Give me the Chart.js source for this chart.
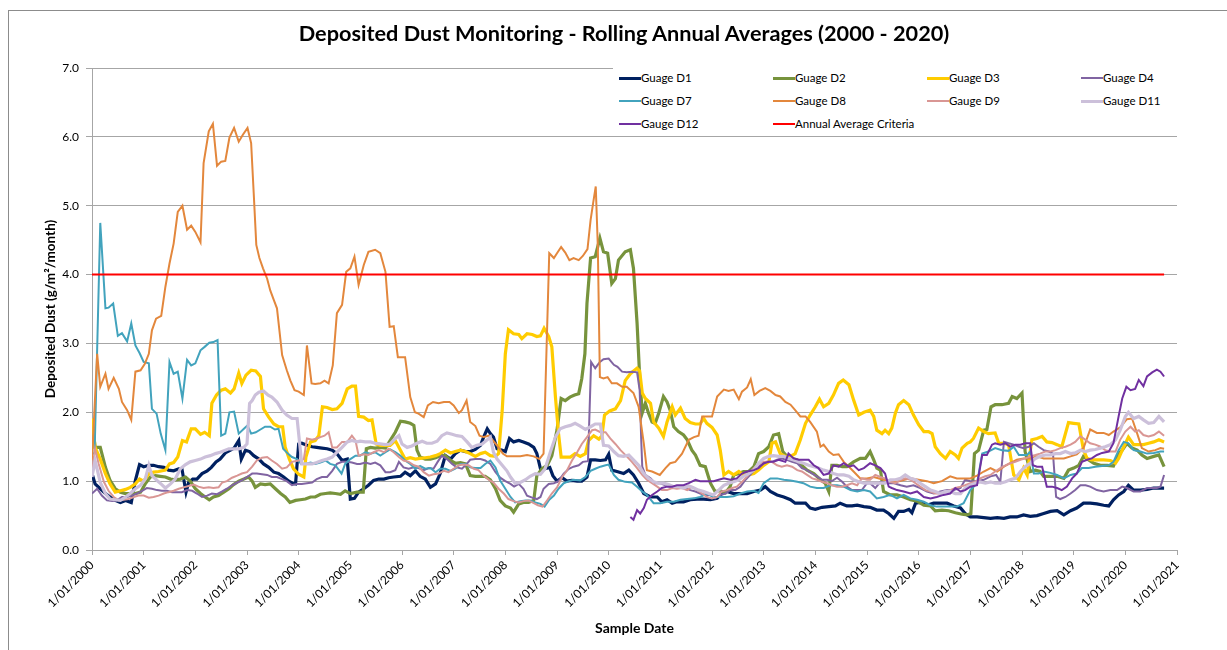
<!DOCTYPE html>
<html>
<head>
<meta charset="utf-8">
<script src="https://cdn.jsdelivr.net/npm/chart.js@4.4.0/dist/chart.umd.min.js"></script>
<style>
  body { margin: 0; background: #fff; overflow: hidden; }
  #moldura { position: absolute; left: 8px; top: 10px; width: 1300px; height: 700px; border: 1px solid #8c8c8c; }
  #area { position: absolute; left: 0; top: 0; width: 1227px; height: 650px; }
  #titulo { position: absolute; left: 0; top: 20px; width: 1248px; height: 26px; line-height: 26px; text-align: center;
            font-family: Lato, sans-serif; font-weight: bold; font-size: 21.7px; color: #000; white-space: nowrap; }
  #legenda { position: absolute; left: 613px; top: 66px; width: 564px; height: 69px; background: #fff;
             font-family: Lato, sans-serif; font-size: 11.5px; color: #000; }
  .item { position: absolute; height: 16px; line-height: 16px; white-space: nowrap; }
  .item span { display: inline-block; width: 22px; vertical-align: middle; margin-top: -2px; }
</style>
</head>
<body>
<div id="moldura"></div>
<div id="area"><canvas id="grafico" width="1227" height="650"></canvas></div>
<div id="titulo">Deposited Dust Monitoring - Rolling Annual Averages (2000 - 2020)</div>
<div id="legenda"></div>
<script>
// dados: [ano, g/m2/mes]
const gaugeD1 = [[2000.0,1.11],[2000.06,0.96],[2000.16,0.89],[2000.26,0.82],[2000.35,0.77],[2000.45,0.72],[2000.55,0.69],[2000.65,0.72],[2000.76,0.69],[2000.84,1.01],[2000.92,1.24],[2001.0,1.21],[2001.1,1.23],[2001.19,1.23],[2001.29,1.21],[2001.39,1.2],[2001.48,1.16],[2001.58,1.15],[2001.68,1.18],[2001.74,1.18],[2001.82,0.84],[2001.87,0.98],[2001.95,1.03],[2002.03,1.03],[2002.13,1.11],[2002.23,1.15],[2002.31,1.2],[2002.4,1.28],[2002.48,1.32],[2002.58,1.41],[2002.68,1.45],[2002.75,1.48],[2002.84,1.59],[2002.89,1.32],[2002.97,1.45],[2003.05,1.43],[2003.13,1.37],[2003.23,1.32],[2003.32,1.25],[2003.42,1.2],[2003.52,1.13],[2003.61,1.11],[2003.71,1.06],[2003.81,1.0],[2003.88,0.97],[2003.94,0.96],[2004.0,1.54],[2004.06,1.55],[2004.16,1.52],[2004.26,1.5],[2004.35,1.49],[2004.45,1.48],[2004.55,1.47],[2004.65,1.45],[2004.74,1.4],[2004.84,1.3],[2004.94,1.32],[2005.0,0.74],[2005.08,0.75],[2005.16,0.84],[2005.26,0.89],[2005.35,0.94],[2005.45,1.01],[2005.55,1.03],[2005.65,1.03],[2005.74,1.05],[2005.84,1.06],[2005.97,1.07],[2006.06,1.13],[2006.16,1.08],[2006.26,1.15],[2006.35,1.07],[2006.45,1.03],[2006.55,0.91],[2006.65,0.96],[2006.74,1.11],[2006.84,1.37],[2006.94,1.32],[2007.03,1.4],[2007.13,1.45],[2007.23,1.43],[2007.32,1.43],[2007.42,1.46],[2007.52,1.52],[2007.58,1.64],[2007.65,1.76],[2007.71,1.69],[2007.77,1.64],[2007.84,1.47],[2007.94,1.45],[2008.0,1.43],[2008.08,1.62],[2008.16,1.57],[2008.26,1.59],[2008.35,1.57],[2008.45,1.54],[2008.55,1.49],[2008.61,1.4],[2008.68,1.18],[2008.77,1.18],[2008.86,1.2],[2008.92,1.08],[2009.0,1.0],[2009.1,1.05],[2009.19,1.0],[2009.29,1.01],[2009.39,1.0],[2009.48,1.0],[2009.58,1.06],[2009.65,1.31],[2009.74,1.31],[2009.84,1.3],[2009.94,1.31],[2010.0,1.39],[2010.06,1.16],[2010.16,1.14],[2010.29,1.11],[2010.39,1.16],[2010.48,1.09],[2010.58,0.97],[2010.68,0.82],[2010.81,0.77],[2010.94,0.77],[2011.03,0.7],[2011.13,0.73],[2011.23,0.68],[2011.32,0.7],[2011.45,0.7],[2011.58,0.73],[2011.71,0.74],[2011.84,0.74],[2011.97,0.73],[2012.1,0.75],[2012.19,0.82],[2012.29,0.85],[2012.42,0.82],[2012.55,0.82],[2012.68,0.82],[2012.81,0.85],[2012.94,0.87],[2013.03,0.92],[2013.13,0.85],[2013.26,0.8],[2013.39,0.77],[2013.52,0.73],[2013.61,0.68],[2013.71,0.68],[2013.81,0.68],[2013.9,0.61],[2014.0,0.59],[2014.13,0.62],[2014.26,0.63],[2014.39,0.64],[2014.48,0.68],[2014.61,0.64],[2014.71,0.64],[2014.81,0.65],[2014.94,0.63],[2015.06,0.62],[2015.19,0.58],[2015.32,0.58],[2015.42,0.53],[2015.52,0.46],[2015.61,0.56],[2015.71,0.56],[2015.81,0.59],[2015.87,0.54],[2015.94,0.68],[2016.03,0.69],[2016.16,0.65],[2016.29,0.68],[2016.42,0.68],[2016.55,0.68],[2016.68,0.64],[2016.81,0.61],[2016.9,0.53],[2017.0,0.48],[2017.13,0.48],[2017.26,0.47],[2017.39,0.46],[2017.52,0.47],[2017.65,0.46],[2017.77,0.48],[2017.9,0.48],[2018.03,0.51],[2018.16,0.49],[2018.29,0.5],[2018.42,0.53],[2018.55,0.56],[2018.68,0.57],[2018.81,0.51],[2018.94,0.57],[2019.06,0.61],[2019.19,0.68],[2019.32,0.68],[2019.45,0.67],[2019.58,0.65],[2019.68,0.64],[2019.77,0.73],[2019.87,0.8],[2019.97,0.85],[2020.06,0.94],[2020.16,0.87],[2020.29,0.87],[2020.42,0.88],[2020.55,0.9],[2020.68,0.9],[2020.75,0.9]];

const gaugeD2 = [[2000.0,1.9],[2000.06,1.49],[2000.16,1.49],[2000.26,1.2],[2000.35,1.01],[2000.45,0.89],[2000.55,0.84],[2000.65,0.82],[2000.74,0.82],[2000.84,0.82],[2000.94,0.84],[2001.03,0.96],[2001.13,1.06],[2001.23,1.08],[2001.32,1.07],[2001.42,1.06],[2001.52,1.03],[2001.61,1.02],[2001.71,1.03],[2001.81,1.06],[2001.9,1.0],[2002.0,0.89],[2002.1,0.82],[2002.19,0.77],[2002.27,0.73],[2002.35,0.77],[2002.45,0.79],[2002.55,0.84],[2002.65,0.89],[2002.74,0.95],[2002.84,1.0],[2002.94,1.03],[2003.03,1.06],[2003.1,1.0],[2003.16,0.91],[2003.26,0.96],[2003.35,0.95],[2003.45,0.96],[2003.55,0.89],[2003.65,0.82],[2003.74,0.77],[2003.83,0.69],[2003.94,0.72],[2004.03,0.73],[2004.13,0.74],[2004.23,0.77],[2004.32,0.77],[2004.42,0.81],[2004.52,0.82],[2004.61,0.83],[2004.71,0.82],[2004.81,0.81],[2004.9,0.86],[2005.0,0.82],[2005.13,0.84],[2005.25,0.84],[2005.31,1.47],[2005.39,1.49],[2005.48,1.48],[2005.58,1.49],[2005.68,1.48],[2005.77,1.59],[2005.87,1.71],[2005.97,1.87],[2006.06,1.86],[2006.16,1.84],[2006.23,1.81],[2006.29,1.45],[2006.35,1.35],[2006.45,1.32],[2006.55,1.32],[2006.65,1.34],[2006.74,1.37],[2006.84,1.37],[2006.94,1.3],[2007.03,1.26],[2007.13,1.27],[2007.23,1.25],[2007.32,1.08],[2007.42,1.07],[2007.52,1.07],[2007.61,1.07],[2007.71,1.02],[2007.81,0.89],[2007.9,0.72],[2008.0,0.64],[2008.1,0.61],[2008.16,0.55],[2008.26,0.67],[2008.35,0.69],[2008.45,0.69],[2008.55,0.72],[2008.61,1.08],[2008.71,1.18],[2008.81,1.23],[2008.9,1.37],[2009.0,1.74],[2009.08,2.2],[2009.16,2.17],[2009.25,2.22],[2009.34,2.25],[2009.42,2.27],[2009.48,2.49],[2009.54,2.85],[2009.58,3.58],[2009.65,4.24],[2009.74,4.26],[2009.83,4.53],[2009.9,4.33],[2009.98,4.31],[2010.06,3.87],[2010.13,3.94],[2010.19,4.21],[2010.32,4.33],[2010.42,4.36],[2010.48,4.09],[2010.55,3.29],[2010.6,2.52],[2010.65,1.99],[2010.71,2.13],[2010.77,1.99],[2010.84,1.86],[2010.9,1.84],[2010.97,1.99],[2011.06,2.23],[2011.13,2.15],[2011.19,2.03],[2011.26,1.79],[2011.35,1.72],[2011.45,1.67],[2011.52,1.6],[2011.61,1.45],[2011.68,1.38],[2011.77,1.23],[2011.87,1.21],[2011.97,0.97],[2012.06,0.85],[2012.16,0.86],[2012.26,0.83],[2012.35,0.92],[2012.42,1.09],[2012.52,1.11],[2012.61,1.14],[2012.71,1.14],[2012.81,1.21],[2012.9,1.4],[2013.0,1.43],[2013.1,1.5],[2013.19,1.67],[2013.29,1.69],[2013.37,1.43],[2013.45,1.36],[2013.55,1.33],[2013.65,1.31],[2013.74,1.23],[2013.84,1.16],[2013.97,1.11],[2014.1,1.02],[2014.19,0.97],[2014.26,0.85],[2014.32,1.23],[2014.42,1.23],[2014.52,1.21],[2014.61,1.21],[2014.74,1.28],[2014.87,1.33],[2014.97,1.33],[2015.06,1.43],[2015.13,1.31],[2015.19,1.19],[2015.26,1.16],[2015.32,0.85],[2015.45,0.8],[2015.58,0.8],[2015.71,0.77],[2015.84,0.73],[2015.97,0.71],[2016.1,0.65],[2016.23,0.64],[2016.32,0.57],[2016.45,0.58],[2016.58,0.57],[2016.71,0.54],[2016.84,0.52],[2016.94,0.51],[2017.01,0.53],[2017.08,1.4],[2017.16,1.45],[2017.26,1.74],[2017.32,1.75],[2017.4,2.08],[2017.48,2.11],[2017.61,2.11],[2017.74,2.13],[2017.81,2.23],[2017.9,2.2],[2018.0,2.28],[2018.06,1.43],[2018.16,1.14],[2018.26,1.16],[2018.35,1.14],[2018.42,1.07],[2018.55,1.07],[2018.68,1.07],[2018.81,1.04],[2018.9,1.16],[2019.0,1.19],[2019.1,1.23],[2019.19,1.36],[2019.29,1.31],[2019.39,1.26],[2019.52,1.23],[2019.65,1.23],[2019.77,1.22],[2019.87,1.4],[2019.94,1.45],[2020.03,1.55],[2020.13,1.48],[2020.23,1.45],[2020.32,1.38],[2020.42,1.33],[2020.55,1.36],[2020.65,1.38],[2020.75,1.21]];

const gaugeD3 = [[2000.0,1.91],[2000.06,1.49],[2000.16,1.32],[2000.26,1.11],[2000.35,0.96],[2000.45,0.84],[2000.55,0.86],[2000.65,0.88],[2000.74,0.91],[2000.84,0.96],[2000.92,1.03],[2001.0,1.0],[2001.1,1.11],[2001.19,1.13],[2001.29,1.14],[2001.42,1.16],[2001.5,1.25],[2001.58,1.27],[2001.66,1.35],[2001.75,1.59],[2001.83,1.57],[2001.92,1.76],[2002.0,1.76],[2002.1,1.68],[2002.18,1.71],[2002.27,1.66],[2002.32,2.13],[2002.41,2.25],[2002.5,2.32],[2002.58,2.34],[2002.68,2.28],[2002.75,2.34],[2002.84,2.57],[2002.9,2.42],[2002.98,2.54],[2003.08,2.61],[2003.17,2.6],[2003.26,2.52],[2003.32,2.05],[2003.42,1.93],[2003.52,1.83],[2003.61,1.79],[2003.69,1.79],[2003.74,1.49],[2003.82,1.32],[2003.9,1.18],[2004.0,1.1],[2004.1,1.06],[2004.14,1.35],[2004.23,1.57],[2004.32,1.59],[2004.39,1.66],[2004.46,2.08],[2004.55,2.07],[2004.65,2.04],[2004.74,2.05],[2004.84,2.13],[2004.94,2.34],[2005.03,2.38],[2005.1,2.38],[2005.16,1.94],[2005.26,1.93],[2005.35,1.88],[2005.42,1.89],[2005.5,1.54],[2005.58,1.52],[2005.68,1.52],[2005.77,1.52],[2005.87,1.59],[2005.97,1.45],[2006.06,1.32],[2006.16,1.34],[2006.26,1.32],[2006.35,1.33],[2006.45,1.34],[2006.55,1.35],[2006.65,1.37],[2006.74,1.4],[2006.84,1.45],[2006.94,1.41],[2007.03,1.43],[2007.13,1.45],[2007.23,1.43],[2007.32,1.4],[2007.42,1.36],[2007.52,1.4],[2007.61,1.42],[2007.71,1.37],[2007.81,1.36],[2007.87,1.4],[2007.94,2.03],[2008.0,2.85],[2008.06,3.2],[2008.16,3.14],[2008.26,3.13],[2008.32,3.07],[2008.42,3.14],[2008.52,3.13],[2008.61,3.1],[2008.68,3.11],[2008.75,3.22],[2008.84,3.1],[2008.9,2.95],[2008.97,2.22],[2009.03,1.69],[2009.08,1.35],[2009.16,1.35],[2009.26,1.35],[2009.35,1.4],[2009.45,1.36],[2009.55,1.4],[2009.61,1.59],[2009.71,1.66],[2009.81,1.61],[2009.87,1.66],[2009.92,1.96],[2010.02,2.02],[2010.13,2.05],[2010.23,2.17],[2010.32,2.46],[2010.42,2.56],[2010.55,2.64],[2010.6,2.6],[2010.65,2.28],[2010.71,2.2],[2010.81,2.13],[2010.87,1.86],[2010.97,1.77],[2011.06,1.65],[2011.13,1.86],[2011.23,2.08],[2011.29,1.96],[2011.39,2.06],[2011.48,1.91],[2011.58,1.85],[2011.68,1.83],[2011.77,1.83],[2011.84,1.91],[2011.9,1.84],[2012.0,1.78],[2012.1,1.67],[2012.16,1.45],[2012.23,1.09],[2012.32,1.14],[2012.42,1.09],[2012.52,1.14],[2012.61,1.09],[2012.71,1.09],[2012.81,1.11],[2012.9,1.16],[2013.0,1.23],[2013.1,1.28],[2013.16,1.55],[2013.23,1.57],[2013.32,1.4],[2013.42,1.36],[2013.52,1.36],[2013.61,1.4],[2013.71,1.6],[2013.81,1.84],[2013.9,1.96],[2014.0,2.08],[2014.08,2.19],[2014.16,2.08],[2014.26,2.13],[2014.35,2.25],[2014.45,2.42],[2014.54,2.47],[2014.65,2.4],[2014.74,2.18],[2014.84,1.96],[2014.94,2.0],[2015.06,2.03],[2015.13,1.94],[2015.19,1.74],[2015.29,1.69],[2015.35,1.74],[2015.42,1.69],[2015.48,1.77],[2015.55,1.99],[2015.61,2.11],[2015.71,2.17],[2015.81,2.11],[2015.9,1.96],[2016.0,1.82],[2016.1,1.72],[2016.19,1.72],[2016.26,1.69],[2016.32,1.5],[2016.42,1.4],[2016.52,1.33],[2016.61,1.43],[2016.71,1.38],[2016.77,1.33],[2016.84,1.48],[2016.94,1.55],[2017.0,1.57],[2017.06,1.62],[2017.16,1.77],[2017.26,1.72],[2017.35,1.69],[2017.48,1.7],[2017.55,1.55],[2017.65,1.55],[2017.74,1.53],[2017.84,1.09],[2017.94,1.02],[2018.03,1.19],[2018.1,1.09],[2018.19,1.6],[2018.29,1.62],[2018.39,1.65],[2018.48,1.57],[2018.58,1.56],[2018.68,1.53],[2018.77,1.5],[2018.9,1.85],[2019.0,1.84],[2019.1,1.83],[2019.19,1.45],[2019.26,1.33],[2019.35,1.31],[2019.48,1.31],[2019.58,1.31],[2019.71,1.3],[2019.81,1.26],[2019.87,1.33],[2019.97,1.5],[2020.06,1.64],[2020.16,1.53],[2020.26,1.53],[2020.35,1.53],[2020.45,1.55],[2020.55,1.57],[2020.65,1.6],[2020.75,1.57]];

const gaugeD4 = [[2000.0,0.82],[2000.1,0.89],[2000.19,0.79],[2000.29,0.72],[2000.39,0.71],[2000.48,0.72],[2000.58,0.77],[2000.68,0.77],[2000.77,0.79],[2000.87,0.82],[2000.97,0.86],[2001.06,0.9],[2001.16,0.89],[2001.26,0.87],[2001.35,0.86],[2001.45,0.86],[2001.55,0.84],[2001.65,0.84],[2001.74,0.84],[2001.84,0.87],[2001.94,0.86],[2002.03,0.82],[2002.13,0.77],[2002.23,0.79],[2002.32,0.82],[2002.42,0.81],[2002.52,0.85],[2002.61,0.89],[2002.71,0.94],[2002.81,0.98],[2002.9,1.01],[2003.0,1.06],[2003.1,1.11],[2003.19,1.11],[2003.29,1.1],[2003.39,1.09],[2003.48,1.06],[2003.58,1.06],[2003.68,1.03],[2003.77,1.0],[2003.87,0.94],[2003.97,0.96],[2004.06,0.96],[2004.16,0.97],[2004.26,0.98],[2004.35,1.03],[2004.45,1.06],[2004.55,1.06],[2004.65,1.15],[2004.74,1.25],[2004.84,1.28],[2004.94,1.28],[2005.03,1.27],[2005.13,1.25],[2005.19,1.25],[2005.29,1.27],[2005.39,1.25],[2005.48,1.27],[2005.58,1.23],[2005.68,1.13],[2005.77,1.13],[2005.87,1.16],[2005.94,1.28],[2006.03,1.2],[2006.13,1.18],[2006.23,1.2],[2006.32,1.19],[2006.42,1.16],[2006.52,1.19],[2006.61,1.18],[2006.69,1.28],[2006.77,1.37],[2006.87,1.32],[2006.97,1.25],[2007.06,1.2],[2007.16,1.18],[2007.23,1.23],[2007.32,1.31],[2007.42,1.32],[2007.52,1.32],[2007.61,1.3],[2007.71,1.25],[2007.81,1.13],[2007.9,1.05],[2008.0,1.0],[2008.1,0.96],[2008.17,0.92],[2008.26,0.96],[2008.35,0.89],[2008.42,0.79],[2008.52,0.76],[2008.61,0.74],[2008.68,0.77],[2008.74,0.89],[2008.84,0.96],[2008.94,0.97],[2009.03,1.0],[2009.13,1.11],[2009.23,1.18],[2009.32,1.21],[2009.42,1.23],[2009.5,1.28],[2009.6,1.29],[2009.66,2.73],[2009.74,2.64],[2009.83,2.73],[2009.9,2.77],[2010.0,2.78],[2010.1,2.69],[2010.17,2.66],[2010.26,2.59],[2010.35,2.58],[2010.45,2.59],[2010.55,2.58],[2010.6,2.32],[2010.63,1.6],[2010.65,1.21],[2010.71,1.09],[2010.81,1.04],[2010.9,0.97],[2011.0,0.97],[2011.1,0.94],[2011.19,0.92],[2011.29,0.92],[2011.39,0.9],[2011.48,0.9],[2011.58,0.87],[2011.68,0.85],[2011.77,0.82],[2011.87,0.8],[2011.97,0.8],[2012.06,0.75],[2012.16,0.8],[2012.26,0.82],[2012.35,0.87],[2012.45,0.87],[2012.55,0.92],[2012.65,1.02],[2012.74,1.09],[2012.84,1.19],[2012.94,1.23],[2013.06,1.28],[2013.16,1.28],[2013.26,1.31],[2013.35,1.33],[2013.45,1.31],[2013.55,1.28],[2013.65,1.26],[2013.74,1.19],[2013.84,1.16],[2013.94,1.11],[2014.03,1.07],[2014.13,1.02],[2014.23,1.02],[2014.32,1.0],[2014.42,1.05],[2014.52,0.99],[2014.61,0.92],[2014.71,0.87],[2014.81,0.87],[2014.9,0.87],[2015.0,0.97],[2015.06,0.97],[2015.16,0.9],[2015.26,0.99],[2015.39,0.97],[2015.52,0.97],[2015.65,0.94],[2015.77,0.92],[2015.9,0.94],[2016.03,0.9],[2016.16,0.85],[2016.29,0.82],[2016.42,0.85],[2016.55,0.87],[2016.68,0.87],[2016.81,0.9],[2016.9,1.02],[2017.0,1.0],[2017.13,1.0],[2017.26,1.02],[2017.39,1.07],[2017.5,1.09],[2017.58,0.99],[2017.65,1.57],[2017.74,1.55],[2017.84,1.53],[2017.94,1.5],[2018.03,1.48],[2018.13,1.5],[2018.23,1.55],[2018.32,1.5],[2018.42,1.45],[2018.52,1.43],[2018.6,1.4],[2018.66,0.77],[2018.74,0.74],[2018.84,0.77],[2018.94,0.82],[2019.03,0.87],[2019.13,0.94],[2019.23,0.94],[2019.32,0.92],[2019.45,0.87],[2019.58,0.85],[2019.71,0.87],[2019.84,0.87],[2019.94,0.92],[2020.03,0.9],[2020.16,0.85],[2020.29,0.85],[2020.42,0.9],[2020.61,0.9],[2020.68,0.92],[2020.75,1.09]];

const gaugeD7 = [[2000.0,1.4],[2000.05,1.4],[2000.16,4.75],[2000.26,3.51],[2000.32,3.52],[2000.41,3.58],[2000.5,3.11],[2000.58,3.15],[2000.68,3.03],[2000.76,3.29],[2000.84,2.97],[2000.92,2.86],[2001.0,2.73],[2001.1,2.71],[2001.16,2.05],[2001.25,1.98],[2001.33,1.69],[2001.42,1.45],[2001.5,2.73],[2001.58,2.56],[2001.66,2.59],[2001.75,2.2],[2001.84,2.76],[2001.92,2.68],[2002.0,2.71],[2002.1,2.9],[2002.18,2.95],[2002.27,3.01],[2002.35,3.02],[2002.43,3.05],[2002.5,1.66],[2002.58,1.69],[2002.66,2.0],[2002.75,2.01],[2002.84,1.69],[2002.94,1.76],[2003.01,1.81],[2003.08,1.69],[2003.17,1.71],[2003.26,1.75],[2003.35,1.79],[2003.45,1.79],[2003.54,1.75],[2003.61,1.76],[2003.7,1.47],[2003.79,1.4],[2003.87,1.35],[2003.97,1.32],[2004.05,1.25],[2004.13,1.25],[2004.23,1.27],[2004.32,1.25],[2004.42,1.27],[2004.52,1.3],[2004.61,1.25],[2004.71,1.23],[2004.83,1.11],[2004.9,1.25],[2005.0,1.32],[2005.1,1.37],[2005.19,1.37],[2005.29,1.42],[2005.39,1.4],[2005.48,1.42],[2005.58,1.37],[2005.68,1.42],[2005.77,1.46],[2005.87,1.42],[2005.97,1.37],[2006.06,1.3],[2006.16,1.25],[2006.26,1.18],[2006.35,1.22],[2006.45,1.18],[2006.55,1.19],[2006.65,1.13],[2006.74,1.18],[2006.84,1.18],[2006.94,1.15],[2007.03,1.18],[2007.13,1.25],[2007.23,1.25],[2007.32,1.2],[2007.42,1.19],[2007.52,1.19],[2007.61,1.25],[2007.71,1.3],[2007.81,1.2],[2007.9,1.01],[2008.0,0.89],[2008.1,0.77],[2008.19,0.69],[2008.29,0.71],[2008.39,0.72],[2008.48,0.72],[2008.58,0.69],[2008.68,0.67],[2008.76,0.63],[2008.85,0.73],[2008.94,0.79],[2009.03,0.89],[2009.13,0.97],[2009.23,1.0],[2009.32,1.02],[2009.45,1.01],[2009.55,1.06],[2009.65,1.15],[2009.74,1.18],[2009.84,1.21],[2009.94,1.23],[2010.0,1.24],[2010.1,1.09],[2010.19,1.02],[2010.32,0.99],[2010.45,0.98],[2010.55,0.92],[2010.65,0.85],[2010.74,0.8],[2010.87,0.68],[2011.0,0.68],[2011.13,0.7],[2011.26,0.7],[2011.39,0.73],[2011.52,0.74],[2011.65,0.75],[2011.77,0.77],[2011.9,0.82],[2012.03,0.77],[2012.16,0.77],[2012.29,0.77],[2012.42,0.78],[2012.55,0.82],[2012.68,0.85],[2012.81,0.86],[2012.9,0.83],[2013.0,0.97],[2013.13,1.04],[2013.26,1.04],[2013.39,1.02],[2013.52,1.01],[2013.65,0.99],[2013.77,0.97],[2013.9,0.92],[2014.03,0.9],[2014.16,0.9],[2014.29,0.94],[2014.42,0.94],[2014.55,0.92],[2014.68,0.87],[2014.81,0.85],[2014.94,0.87],[2015.06,0.85],[2015.19,0.75],[2015.32,0.77],[2015.45,0.8],[2015.58,0.75],[2015.71,0.8],[2015.84,0.75],[2015.97,0.73],[2016.1,0.7],[2016.23,0.65],[2016.35,0.63],[2016.48,0.63],[2016.61,0.63],[2016.74,0.63],[2016.87,0.68],[2017.0,0.87],[2017.13,0.97],[2017.23,1.4],[2017.35,1.43],[2017.48,1.48],[2017.61,1.45],[2017.74,1.44],[2017.84,1.5],[2017.94,1.38],[2018.1,1.38],[2018.16,1.43],[2018.23,1.11],[2018.32,1.11],[2018.42,1.14],[2018.55,1.12],[2018.68,1.09],[2018.81,1.04],[2018.94,1.09],[2019.06,1.11],[2019.16,1.19],[2019.29,1.19],[2019.42,1.21],[2019.55,1.22],[2019.68,1.23],[2019.77,1.28],[2019.87,1.45],[2019.97,1.57],[2020.06,1.55],[2020.16,1.45],[2020.29,1.43],[2020.42,1.4],[2020.55,1.41],[2020.68,1.43],[2020.75,1.43]];

const gaugeD8 = [[2000.0,1.3],[2000.1,2.85],[2000.16,2.37],[2000.26,2.56],[2000.32,2.34],[2000.42,2.5],[2000.52,2.34],[2000.58,2.15],[2000.68,2.03],[2000.76,1.89],[2000.84,2.59],[2000.94,2.61],[2001.02,2.7],[2001.1,2.85],[2001.16,3.19],[2001.24,3.36],[2001.34,3.4],[2001.42,3.82],[2001.5,4.16],[2001.58,4.45],[2001.66,4.91],[2001.75,5.0],[2001.84,4.65],[2001.92,4.71],[2002.0,4.62],[2002.1,4.47],[2002.16,5.62],[2002.26,6.08],[2002.34,6.19],[2002.42,5.58],[2002.5,5.64],[2002.58,5.65],[2002.66,5.99],[2002.75,6.13],[2002.84,5.93],[2002.92,6.03],[2003.01,6.13],[2003.08,5.91],[2003.13,5.18],[2003.18,4.43],[2003.24,4.24],[2003.31,4.09],[2003.39,3.94],[2003.45,3.77],[2003.52,3.63],[2003.58,3.51],[2003.68,2.83],[2003.77,2.61],[2003.84,2.46],[2003.92,2.32],[2004.0,2.3],[2004.1,2.25],[2004.16,2.97],[2004.25,2.42],[2004.32,2.41],[2004.42,2.42],[2004.5,2.46],[2004.58,2.42],[2004.66,2.68],[2004.74,3.44],[2004.84,3.56],[2004.92,4.04],[2005.0,4.09],[2005.08,4.26],[2005.16,3.85],[2005.26,4.14],[2005.35,4.33],[2005.48,4.36],[2005.58,4.31],[2005.68,4.04],[2005.76,3.24],[2005.84,3.25],[2005.92,2.8],[2006.06,2.8],[2006.16,2.22],[2006.25,2.0],[2006.32,1.98],[2006.42,1.93],[2006.5,2.1],[2006.6,2.15],[2006.71,2.13],[2006.81,2.15],[2006.92,2.15],[2007.0,2.1],[2007.1,1.99],[2007.16,2.03],[2007.25,2.17],[2007.32,1.86],[2007.42,1.8],[2007.5,1.66],[2007.58,1.64],[2007.68,1.66],[2007.76,1.59],[2007.87,1.49],[2007.95,1.4],[2008.03,1.36],[2008.16,1.36],[2008.29,1.36],[2008.42,1.38],[2008.55,1.36],[2008.66,1.32],[2008.74,1.4],[2008.85,4.31],[2008.94,4.24],[2009.0,4.31],[2009.08,4.4],[2009.16,4.32],[2009.24,4.21],[2009.32,4.24],[2009.42,4.21],[2009.5,4.27],[2009.59,4.37],[2009.65,4.79],[2009.7,5.04],[2009.75,5.28],[2009.79,4.41],[2009.83,2.51],[2009.9,2.49],[2009.98,2.51],[2010.06,2.42],[2010.16,2.42],[2010.26,2.37],[2010.35,2.37],[2010.48,2.28],[2010.58,2.08],[2010.68,1.55],[2010.74,1.16],[2010.84,1.14],[2010.99,1.09],[2011.1,1.19],[2011.19,1.26],[2011.29,1.28],[2011.42,1.4],[2011.55,1.6],[2011.65,1.64],[2011.74,1.66],[2011.81,1.94],[2012.0,1.94],[2012.1,2.23],[2012.23,2.33],[2012.32,2.31],[2012.42,2.33],[2012.52,2.19],[2012.58,2.3],[2012.68,2.36],[2012.75,2.48],[2012.82,2.25],[2012.92,2.31],[2013.03,2.35],[2013.13,2.31],[2013.23,2.25],[2013.32,2.23],[2013.42,2.15],[2013.52,2.11],[2013.61,2.03],[2013.71,1.94],[2013.81,1.94],[2013.9,1.86],[2014.03,1.72],[2014.1,1.5],[2014.16,1.53],[2014.26,1.43],[2014.35,1.38],[2014.45,1.39],[2014.55,1.28],[2014.65,1.21],[2014.74,1.14],[2014.87,1.04],[2015.0,1.04],[2015.13,1.06],[2015.32,1.02],[2015.58,0.99],[2015.84,1.04],[2016.0,1.02],[2016.16,1.0],[2016.29,0.97],[2016.45,1.0],[2016.61,1.07],[2016.74,1.04],[2016.87,1.04],[2017.0,1.04],[2017.13,1.08],[2017.26,1.14],[2017.39,1.19],[2017.52,1.14],[2017.65,1.21],[2017.77,1.26],[2017.9,1.31],[2018.03,1.33],[2018.16,1.33],[2018.29,1.36],[2018.42,1.33],[2018.55,1.33],[2018.68,1.33],[2018.81,1.33],[2018.94,1.36],[2019.06,1.39],[2019.19,1.48],[2019.32,1.75],[2019.45,1.7],[2019.58,1.7],[2019.68,1.67],[2019.77,1.72],[2019.9,1.78],[2020.03,1.9],[2020.13,1.91],[2020.23,1.69],[2020.32,1.48],[2020.45,1.43],[2020.58,1.45],[2020.68,1.48],[2020.75,1.47]];

const gaugeD9 = [[2000.0,1.15],[2000.06,1.47],[2000.13,1.25],[2000.23,0.99],[2000.32,0.86],[2000.42,0.77],[2000.52,0.72],[2000.61,0.73],[2000.71,0.74],[2000.81,0.77],[2000.9,0.79],[2001.0,0.79],[2001.1,0.76],[2001.19,0.77],[2001.29,0.79],[2001.39,0.82],[2001.48,0.84],[2001.58,0.86],[2001.68,0.89],[2001.77,0.91],[2001.87,0.93],[2001.97,0.95],[2002.06,0.92],[2002.16,0.9],[2002.26,0.91],[2002.35,0.9],[2002.45,0.91],[2002.52,0.98],[2002.61,1.0],[2002.71,1.05],[2002.81,1.08],[2002.9,1.11],[2003.0,1.13],[2003.1,1.21],[2003.19,1.3],[2003.29,1.34],[2003.39,1.35],[2003.48,1.3],[2003.58,1.25],[2003.68,1.18],[2003.77,1.2],[2003.87,1.28],[2004.0,1.3],[2004.1,1.32],[2004.16,1.62],[2004.26,1.6],[2004.35,1.62],[2004.42,1.64],[2004.5,1.66],[2004.58,1.71],[2004.65,1.49],[2004.74,1.49],[2004.84,1.57],[2004.94,1.57],[2005.03,1.66],[2005.1,1.59],[2005.16,1.37],[2005.26,1.39],[2005.35,1.38],[2005.45,1.42],[2005.55,1.45],[2005.65,1.42],[2005.74,1.47],[2005.84,1.42],[2005.94,1.35],[2006.03,1.3],[2006.13,1.28],[2006.23,1.23],[2006.32,1.21],[2006.42,1.13],[2006.52,1.08],[2006.61,1.1],[2006.71,1.11],[2006.81,1.15],[2006.9,1.13],[2007.0,1.18],[2007.1,1.23],[2007.19,1.24],[2007.29,1.23],[2007.39,1.18],[2007.48,1.16],[2007.58,1.08],[2007.68,1.02],[2007.77,0.98],[2007.87,0.89],[2007.97,0.82],[2008.06,0.74],[2008.16,0.71],[2008.26,0.69],[2008.35,0.71],[2008.45,0.72],[2008.55,0.68],[2008.63,0.65],[2008.72,0.63],[2008.81,0.72],[2008.9,0.82],[2009.0,0.91],[2009.1,1.06],[2009.19,1.15],[2009.29,1.3],[2009.39,1.42],[2009.48,1.54],[2009.58,1.64],[2009.68,1.74],[2009.74,1.75],[2009.84,1.71],[2009.94,1.71],[2010.03,1.62],[2010.13,1.54],[2010.23,1.45],[2010.35,1.36],[2010.45,1.28],[2010.55,1.19],[2010.65,1.09],[2010.74,1.02],[2010.84,0.97],[2010.94,0.92],[2011.03,0.87],[2011.13,0.87],[2011.23,0.9],[2011.32,0.89],[2011.42,0.9],[2011.52,0.87],[2011.61,0.92],[2011.71,0.87],[2011.81,0.82],[2011.9,0.77],[2012.0,0.75],[2012.1,0.77],[2012.19,0.85],[2012.29,0.87],[2012.39,0.9],[2012.48,0.92],[2012.58,0.99],[2012.68,1.07],[2012.77,1.16],[2012.87,1.23],[2012.97,1.28],[2013.06,1.28],[2013.16,1.28],[2013.26,1.23],[2013.35,1.21],[2013.45,1.23],[2013.55,1.21],[2013.65,1.16],[2013.74,1.14],[2013.84,1.09],[2013.94,1.04],[2014.03,1.02],[2014.13,0.99],[2014.23,0.97],[2014.32,0.94],[2014.42,0.92],[2014.52,0.92],[2014.61,0.94],[2014.71,0.97],[2014.81,0.94],[2014.9,1.04],[2015.0,1.02],[2015.06,1.02],[2015.16,1.09],[2015.26,1.06],[2015.35,1.04],[2015.45,0.99],[2015.55,0.97],[2015.65,1.02],[2015.74,1.04],[2015.84,1.02],[2015.94,0.97],[2016.03,0.92],[2016.13,0.87],[2016.23,0.85],[2016.32,0.82],[2016.42,0.82],[2016.52,0.85],[2016.61,0.87],[2016.71,0.9],[2016.81,0.92],[2016.9,0.94],[2017.0,0.97],[2017.1,0.99],[2017.19,1.04],[2017.29,1.07],[2017.39,1.09],[2017.48,1.14],[2017.58,1.19],[2017.68,1.23],[2017.77,1.26],[2017.87,1.28],[2017.97,1.31],[2018.06,1.33],[2018.16,1.36],[2018.26,1.38],[2018.35,1.4],[2018.45,1.43],[2018.55,1.43],[2018.65,1.45],[2018.74,1.48],[2018.84,1.5],[2018.94,1.53],[2019.03,1.57],[2019.13,1.65],[2019.23,1.6],[2019.32,1.55],[2019.42,1.53],[2019.52,1.5],[2019.61,1.45],[2019.71,1.43],[2019.81,1.43],[2019.9,1.6],[2020.0,1.72],[2020.1,1.79],[2020.19,1.72],[2020.26,1.74],[2020.35,1.67],[2020.45,1.65],[2020.55,1.67],[2020.65,1.72],[2020.75,1.66]];

const gaugeD11 = [[2000.0,1.06],[2000.06,1.3],[2000.16,0.98],[2000.26,0.82],[2000.35,0.74],[2000.45,0.73],[2000.55,0.72],[2000.65,0.77],[2000.74,0.82],[2000.84,0.89],[2000.94,0.94],[2001.03,1.03],[2001.1,1.23],[2001.16,1.08],[2001.26,1.01],[2001.35,0.95],[2001.42,0.9],[2001.52,0.96],[2001.61,1.03],[2001.71,1.18],[2001.81,1.24],[2001.9,1.28],[2002.0,1.3],[2002.1,1.32],[2002.19,1.35],[2002.29,1.37],[2002.39,1.4],[2002.48,1.42],[2002.58,1.45],[2002.65,1.47],[2002.74,1.47],[2002.84,1.47],[2002.94,1.49],[2003.0,1.54],[2003.05,2.13],[2003.1,2.17],[2003.16,2.25],[2003.23,2.29],[2003.32,2.31],[2003.41,2.25],[2003.48,2.22],[2003.58,2.15],[2003.68,2.03],[2003.77,1.96],[2003.87,1.91],[2003.97,1.91],[2004.02,1.54],[2004.06,1.25],[2004.16,1.25],[2004.26,1.25],[2004.35,1.27],[2004.45,1.3],[2004.55,1.32],[2004.65,1.35],[2004.74,1.42],[2004.84,1.49],[2004.94,1.57],[2005.03,1.59],[2005.13,1.57],[2005.19,1.58],[2005.29,1.57],[2005.39,1.57],[2005.48,1.55],[2005.58,1.54],[2005.68,1.53],[2005.77,1.54],[2005.87,1.62],[2005.94,1.66],[2006.0,1.54],[2006.1,1.49],[2006.19,1.51],[2006.29,1.55],[2006.39,1.58],[2006.48,1.55],[2006.58,1.55],[2006.68,1.58],[2006.77,1.66],[2006.87,1.7],[2006.97,1.68],[2007.06,1.66],[2007.16,1.65],[2007.26,1.57],[2007.35,1.49],[2007.45,1.52],[2007.55,1.54],[2007.65,1.6],[2007.71,1.64],[2007.77,1.42],[2007.84,1.32],[2007.94,1.23],[2008.03,1.15],[2008.1,1.06],[2008.19,0.97],[2008.29,0.98],[2008.39,1.02],[2008.48,1.07],[2008.58,1.11],[2008.68,1.1],[2008.77,1.18],[2008.87,1.42],[2008.97,1.64],[2009.06,1.76],[2009.16,1.79],[2009.26,1.81],[2009.35,1.84],[2009.45,1.8],[2009.55,1.75],[2009.65,1.79],[2009.74,1.83],[2009.84,1.83],[2009.9,1.52],[2010.0,1.51],[2010.1,1.43],[2010.19,1.37],[2010.29,1.36],[2010.39,1.38],[2010.48,1.31],[2010.58,1.23],[2010.68,1.11],[2010.77,1.04],[2010.87,0.99],[2010.97,0.97],[2011.06,0.97],[2011.16,0.95],[2011.26,0.92],[2011.35,0.92],[2011.45,0.9],[2011.55,0.93],[2011.65,0.9],[2011.74,0.87],[2011.84,0.85],[2011.94,0.82],[2012.03,0.8],[2012.13,0.87],[2012.23,0.94],[2012.32,0.97],[2012.42,0.99],[2012.52,1.02],[2012.61,1.07],[2012.71,1.11],[2012.81,1.16],[2012.9,1.26],[2013.0,1.33],[2013.1,1.36],[2013.19,1.37],[2013.29,1.36],[2013.39,1.36],[2013.48,1.33],[2013.58,1.31],[2013.68,1.28],[2013.77,1.26],[2013.87,1.23],[2013.97,1.21],[2014.06,1.19],[2014.16,1.16],[2014.26,1.14],[2014.35,1.11],[2014.45,1.09],[2014.55,1.09],[2014.65,1.07],[2014.74,1.02],[2014.84,0.99],[2014.94,0.97],[2015.03,0.97],[2015.13,0.97],[2015.26,0.97],[2015.35,0.97],[2015.45,1.02],[2015.55,1.02],[2015.65,1.04],[2015.74,1.09],[2015.84,1.04],[2015.94,1.02],[2016.03,0.97],[2016.13,0.92],[2016.23,0.87],[2016.32,0.85],[2016.42,0.82],[2016.52,0.85],[2016.61,0.85],[2016.71,0.82],[2016.81,0.82],[2016.9,0.9],[2017.0,0.94],[2017.1,0.97],[2017.19,0.99],[2017.29,0.97],[2017.39,0.99],[2017.48,0.97],[2017.58,0.97],[2017.68,0.99],[2017.77,1.02],[2017.87,1.04],[2017.97,1.14],[2018.06,1.21],[2018.16,1.26],[2018.26,1.33],[2018.35,1.36],[2018.45,1.38],[2018.55,1.38],[2018.65,1.4],[2018.74,1.4],[2018.84,1.43],[2018.94,1.4],[2019.03,1.41],[2019.13,1.45],[2019.23,1.43],[2019.32,1.45],[2019.42,1.46],[2019.52,1.48],[2019.61,1.5],[2019.71,1.53],[2019.81,1.6],[2019.9,1.74],[2020.0,1.94],[2020.06,2.0],[2020.16,1.91],[2020.26,1.94],[2020.35,1.89],[2020.45,1.84],[2020.55,1.85],[2020.65,1.94],[2020.75,1.86]];

const gaugeD12 = [[2010.42,0.48],[2010.48,0.44],[2010.55,0.58],[2010.61,0.53],[2010.68,0.61],[2010.74,0.73],[2010.84,0.8],[2010.94,0.85],[2011.03,0.9],[2011.13,0.92],[2011.23,0.92],[2011.32,0.94],[2011.45,0.94],[2011.55,0.97],[2011.68,1.02],[2011.77,1.0],[2011.9,1.0],[2012.03,1.0],[2012.13,1.02],[2012.23,1.04],[2012.35,1.02],[2012.48,1.04],[2012.58,1.11],[2012.68,1.14],[2012.81,1.16],[2012.9,1.19],[2013.0,1.26],[2013.1,1.28],[2013.19,1.28],[2013.29,1.31],[2013.42,1.28],[2013.48,1.4],[2013.58,1.33],[2013.68,1.31],[2013.77,1.31],[2013.87,1.31],[2013.97,1.23],[2014.06,1.19],[2014.16,1.09],[2014.26,1.11],[2014.35,1.23],[2014.45,1.21],[2014.55,1.26],[2014.65,1.21],[2014.74,1.23],[2014.84,1.16],[2014.94,1.19],[2015.06,1.26],[2015.16,1.23],[2015.26,1.19],[2015.35,1.11],[2015.42,0.92],[2015.48,0.9],[2015.58,0.87],[2015.71,0.85],[2015.84,0.82],[2015.97,0.85],[2016.1,0.77],[2016.23,0.75],[2016.35,0.77],[2016.48,0.8],[2016.61,0.82],[2016.71,0.9],[2016.81,0.85],[2016.9,0.87],[2017.0,0.92],[2017.13,0.94],[2017.23,1.38],[2017.32,1.38],[2017.42,1.53],[2017.48,1.55],[2017.58,1.53],[2017.68,1.55],[2017.77,1.5],[2017.87,1.53],[2017.97,1.53],[2018.06,1.55],[2018.16,1.55],[2018.21,1.23],[2018.29,1.21],[2018.39,1.21],[2018.48,0.92],[2018.58,0.92],[2018.68,0.9],[2018.77,0.87],[2018.87,0.92],[2018.97,1.04],[2019.06,1.11],[2019.16,1.28],[2019.26,1.31],[2019.35,1.33],[2019.45,1.38],[2019.55,1.41],[2019.68,1.43],[2019.77,1.55],[2019.87,1.94],[2019.94,2.2],[2020.02,2.37],[2020.1,2.32],[2020.19,2.34],[2020.26,2.47],[2020.35,2.38],[2020.42,2.52],[2020.52,2.58],[2020.61,2.62],[2020.68,2.59],[2020.75,2.52]];

const criterioAnual = [[2000, 4], [2020.75, 4]];

// eixos
const anoInicio = 2000;
const anoFim = 2021;
const yMin = 0;
const yMax = 7;

const series = [
  { label: "Guage D1", data: gaugeD1, cor: "#002060", largura: 3.2 },
  { label: "Guage D2", data: gaugeD2, cor: "#77933C", largura: 3.2 },
  { label: "Guage D3", data: gaugeD3, cor: "#FFCC00", largura: 3.2 },
  { label: "Guage D4", data: gaugeD4, cor: "#8064A2", largura: 2 },
  { label: "Guage D7", data: gaugeD7, cor: "#42A3BD", largura: 2 },
  { label: "Gauge D8", data: gaugeD8, cor: "#E3873C", largura: 2 },
  { label: "Gauge D9", data: gaugeD9, cor: "#D99694", largura: 2 },
  { label: "Gauge D11", data: gaugeD11, cor: "#CCC0DA", largura: 3.2 },
  { label: "Gauge D12", data: gaugeD12, cor: "#7030A0", largura: 2 },
  { label: "Annual Average Criteria", data: criterioAnual, cor: "#FF0000", largura: 2 }
];

const fonte = "Lato, 'DejaVu Sans', sans-serif";
const corGrade = "#a6a6a6";

let datasets = series.map(function (s, i) {
  return {
    label: s.label,
    data: s.data,
    borderColor: s.cor,
    backgroundColor: s.cor,
    borderWidth: s.largura,
    pointRadius: 0,
    tension: 0,
    fill: false,
    order: series.length - i
  };
});

new Chart(document.getElementById("grafico"), {
  type: "line",
  data: { datasets: datasets },
  options: {
    responsive: false,
    animation: false,
    layout: { padding: { left: 0, right: 50, top: 68, bottom: 0 } },
    plugins: {
      legend: { display: false },
      tooltip: { enabled: false }
    },
    scales: {
      x: {
        type: "linear",
        min: anoInicio,
        max: anoFim,
        afterFit: function (escala) { escala.height = 100; },
        ticks: {
          stepSize: 1,
          autoSkip: false,
          maxRotation: 45,
          minRotation: 45,
          color: "#000",
          font: { family: fonte, size: 12 },
          callback: function (v) { return "1/01/" + v; }
        },
        grid: { drawOnChartArea: false, drawTicks: true, tickLength: 5, color: corGrade },
        border: { color: corGrade },
        title: {
          display: true,
          text: "Sample Date",
          color: "#000",
          font: { family: fonte, size: 14, weight: "bold" },
          padding: { top: 0, bottom: 13 }
        }
      },
      y: {
        min: yMin,
        max: yMax,
        afterFit: function (escala) { escala.width = 92; },
        ticks: {
          stepSize: 1,
          color: "#000",
          padding: 7,
          font: { family: fonte, size: 12 },
          callback: function (v) { return v.toFixed(1); }
        },
        grid: { color: corGrade, tickLength: 6 },
        border: { color: corGrade },
        title: {
          display: true,
          text: "Deposited Dust (g/m²/month)",
          color: "#000",
          font: { family: fonte, size: 13.5, weight: "bold" },
          padding: { top: 43, bottom: 0 }
        }
      }
    }
  }
});

// legenda em grade, dentro da area do grafico
let legenda = document.getElementById("legenda");
for (let i = 0; i < series.length; i++) {
  let col = i % 4;
  let lin = Math.floor(i / 4);
  if (i >= 8) { col = i - 8; lin = 2; }
  legenda.innerHTML += `
    <div class="item" style="left:${6 + col * 154}px; top:${4 + lin * 23}px">
      <span style="height:${series[i].largura}px; background:${series[i].cor}"></span>${series[i].label}
    </div>`;
}
</script>
</body>
</html>
